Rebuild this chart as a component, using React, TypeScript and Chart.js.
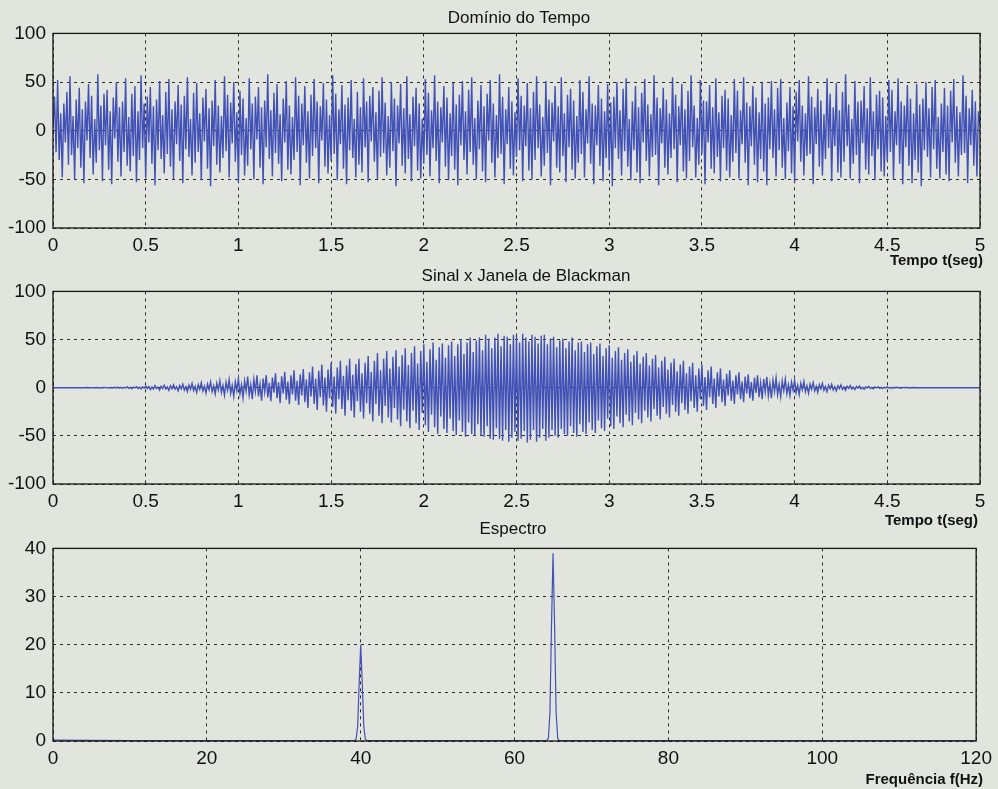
import React, { useEffect, useRef } from "react";
import { Chart, registerables } from "chart.js";

Chart.register(...registerables);

// ---------- DATA ----------
// Time-domain signal samples (0..5 s, evenly spaced)
const signalTime: number[] = [
  4, 35, -22, 52, -30, 18, -48, 28, -12, 40, -35, 56, -25, 15, -50, 32, -18, 44, -38, 22,
  -54, 30, -10, 48, -28, 36, -45, 12, -33, 58, -20, 26, -52, 38, -15, 42, -40, 20, -55, 34,
  -8, 50, -32, 24, -47, 30, -22, 54, -36, 14, -42, 38, -26, 46, -53, 20, -30, 57, -18, 28,
  -49, 35, -12, 45, -34, 25, -56, 32, -20, 51, -29, 16, -44, 40, -24, 53, -37, 22, -50, 30,
  -14, 47, -31, 27, -54, 36, -19, 55, -27, 12, -46, 39, -33, 49, -22, 18, -51, 34, -11, 43,
  -39, 23, -57, 31, -16, 52, -35, 26, -43, 15, -28, 56, -21, 37, -48, 29, -13, 50, -32, 19,
  -53, 41, -25, 33, -46, 13, -36, 54, -19, 28, -50, 35, -9, 45, -38, 24, -55, 31, -17, 58,
  -29, 21, -47, 39, -23, 48, -34, 17, -52, 33, -12, 51, -40, 26, -45, 14, -30, 55, -22, 36,
  -56, 28, -15, 46, -33, 20, -49, 37, -26, 53, -18, 30, -54, 25, -10, 49, -37, 32, -44, 16,
  -31, 57, -24, 38, -51, 22, -14, 47, -39, 27, -55, 34, -20, 52, -28, 12, -48, 40, -35, 24,
  -43, 54, -17, 30, -53, 36, -11, 45, -32, 19, -50, 41, -27, 55, -23, 29, -46, 15, -38, 50,
  -21, 33, -57, 26, -13, 48, -36, 23, -44, 56, -29, 17, -52, 35, -16, 44, -41, 28, -49, 12,
  -34, 53, -25, 39, -47, 21, -18, 57, -31, 30, -54, 24, -12, 46, -37, 34, -51, 18, -26, 49,
  -40, 27, -56, 37, -15, 51, -30, 20, -45, 42, -22, 55, -35, 13, -50, 31, -19, 47, -42, 25,
  -53, 38, -10, 52, -33, 28, -48, 16, -28, 58, -24, 35, -55, 22, -14, 45, -39, 30, -46, 19,
  -27, 54, -20, 36, -52, 26, -16, 49, -41, 23, -50, 40, -30, 56, -18, 27, -47, 14, -36, 51,
  -23, 32, -56, 29, -11, 46, -38, 25, -43, 55, -26, 18, -53, 37, -17, 43, -40, 31, -49, 15,
  -33, 52, -24, 40, -48, 22, -13, 56, -34, 28, -55, 26, -15, 47, -36, 33, -52, 20, -28, 48,
  -41, 29, -57, 35, -18, 50, -29, 21, -46, 43, -21, 54, -37, 12, -51, 30, -20, 46, -43, 24,
  -54, 39, -12, 53, -31, 27, -47, 17, -27, 57, -25, 34, -56, 23, -13, 44, -38, 32, -45, 18,
  -28, 55, -19, 37, -53, 25, -15, 48, -42, 22, -49, 41, -31, 57, -17, 26, -48, 13, -35, 52,
  -24, 31, -55, 30, -12, 47, -39, 24, -44, 54, -27, 19, -52, 36, -18, 42, -41, 33, -48, 16,
  -32, 53, -23, 41, -49, 21, -14, 55, -33, 29, -56, 25, -16, 46, -35, 34, -53, 19, -29, 49,
  -42, 28, -56, 34, -19, 51, -28, 22, -47, 44, -20, 53, -38, 13, -50, 29, -21, 45, -44, 25,
  -53, 40, -11, 52, -32, 26, -46, 18, -26, 56, -24, 35, -55, 24, -14, 43, -37, 31, -46, 17,
  -29, 54, -18, 38, -52, 24, -16, 49, -43, 21, -48, 40, -32, 58, -16, 27, -49, 12, -34, 51,
  -25, 30, -54, 31, -13, 46, -40, 23, -45, 55, -26, 20, -51, 37, -19, 41, -42, 34, -47, 15,
  -31, 52, -22, 42, -50, 20, -15, 54, -34, 30, -55, 26, -17, 47, -36, 33, -54, 18, -30, 48,
  -43, 27, -57, 33, -20, 50, -27, 23, -48, 45, -19, 52, -39, 14, -49, 28, -22, 44, -45, 26,
  -52, 41, -12, 53, -33, 25, -47, 19, -25, 57, -23, 36, -54, 23, -15, 42, -36, 30, -47, 20,
  6,
];

// Signal multiplied by Blackman window (0..5 s, evenly spaced)
const signalWindowed: number[] = [
  0, 0, 0, 0, 0, 0, 0, 0, 0, 0, 0, 0, 0, 0, 0, 0, 0, 0, 0.1, -0.1,
  0.1, -0.1, 0.2, -0.1, 0.1, -0.2, 0.1, -0.1, 0.2, -0.2, 0.1, -0.3, 0.2, -0.1, 0.3, -0.2, 0.1, -0.3, 0.2, -0.3,
  0.4, -0.2, 0.6, -0.5, 0.3, -0.8, 0.5, -0.2, 0.9, -0.6, 0.4, -1, 0.7, -0.3, 1.1, -0.8, 0.5, -1.2, 0.9, -0.5,
  1.5, -0.8, 1.2, -1.9, 0.7, -1.4, 2.2, -1, 0.6, -2.4, 1.6, -0.9, 2.6, -1.5, 0.8, -2.8, 1.9, -1.1, 3, -1.6,
  1, -3.2, 2.2, -1.3, 3.6, -2.5, 1.1, -4, 2.7, -1.5, 4.4, -2.9, 1.4, -4.8, 3.1, -1.7, 5.2, -3.3, 1.6, -5.5,
  3.8, -2, 6, -4.2, 1.8, -6.6, 4.5, -2.4, 7.2, -5, 2.2, -7.8, 5.4, -2.6, 8.4, -5.8, 2.4, -9, 6.2, -3,
  9.5, -6.5, 3, -10.5, 7, -3.5, 11.5, -7.8, 3.2, -12, 8.4, -4, 12.8, -9, 3.6, -13.5, 9.5, -4.4, 13, -10,
  5, -14, 10.5, -5.2, 15, -11, 5.5, -16, 11.8, -6, 16.5, -12.5, 6.4, -17.2, 13, -7, 18, -13.4, 7.2, -18,
  14, -8, 19.5, -15, 8.5, -21, 16, -9, 22, -17, 9.5, -23, 17.5, -10, 24, -18.5, 10.5, -25, 19, -11,
  26, -20, 11.5, -27, 21, -12, 28, -22, 12.5, -29, 23, -13, 30, -24, 13.5, -31, 24.5, -14, 30, -25,
  15, -32, 26, -16, 33, -27, 16.5, -35, 28, -17, 36, -29, 18, -37, 30, -19, 38, -31, 20, -36,
  32, -21, 39, -33, 22, -40, 34, -23, 41, -35, 23.5, -42, 36, -24, 43, -37, 25, -44, 38, -26,
  45, -39, 27, -46, 40, -28, 47, -41, 29, -48, 42, -30, 46, -43, 31, -47, 44, -32, 48, -45,
  33, -49, 45, -34, 50, -46, 35, -51, 47, -36, 52, -48, 37, -50, 49, -38, 52, -50, 39, -51,
  55, -40, 51, -53, 41, -54, 52, -42, 56, -53, 43, -55, 54, -44, 53, -56, 45, -52, 55, -46,
  54, -55, 47, -53, 56, -45, 52, -57, 48, -54, 55, -44, 53, -56, 46, -52, 54, -43, 55, -55,
  45, -52, 51, -44, 53, -50, 42, -52, 49, -43, 51, -48, 41, -50, 48, -40, 52, -47, 39, -51,
  47, -38, 48, -46, 37, -48, 45, -36, 47, -44, 35, -47, 43, -34, 46, -42, 33, -45, 41, -32,
  44, -40, 31, -43, 38, -30, 42, -37, 29, -41, 36, -28, 40, -35, 27, -39, 34, -26, 38, -33,
  25, -37, 32, -24, 36, -31, 23, -35, 30, -22, 34, -29, 21, -33, 28, -20, 32, -27, 19, -31,
  26, -18, 30, -25, 17, -29, 24, -16, 28, -23, 15, -27, 22, -14, 26, -21, 13, -25, 20, -12,
  24, -19, 11, -23, 18, -10, 22, -17, 9.5, -21, 16, -9, 20, -15, 8.5, -19, 14.5, -8, 18, -13.5,
  7.5, -17, 13, -7, 16, -12, 6.5, -15, 11.5, -6, 14, -11, 5.8, -13.5, 10.5, -5.4, 12.8, -9.8, 5, -12,
  9, -4.6, 11.4, -8.4, 4.2, -10.8, 7.8, -3.8, 10, -7.2, 3.5, -9.4, 6.8, -3.2, 8.8, -6.2, 2.9, -8.2, 5.8, -2.6,
  7.6, -5.2, 2.4, -7, 4.6, -2.1, 6.4, -4.2, 1.9, -5.8, 3.8, -1.7, 5.2, -3.4, 1.5, -4.8, 3.1, -1.4, 4.4, -2.8,
  1.3, -4, 2.6, -1.2, 3.6, -2.3, 1, -3.2, 2, -0.9, 2.9, -1.8, 0.8, -2.6, 1.6, -0.7, 2.3, -1.4, 0.6, -2,
  1.3, -0.5, 1.8, -1.1, 0.4, -1.6, 0.9, -0.4, 1.4, -0.8, 0.3, -1.2, 0.7, -0.3, 1, -0.6, 0.3, -0.9, 0.5, -0.2,
  0.8, -0.4, 0.2, -0.7, 0.4, -0.2, 0.6, -0.3, 0.1, -0.5, 0.3, -0.1, 0.4, -0.2, 0.1, -0.3, 0.2, -0.1, 0.2, -0.1,
  0.1, -0.1, 0.1, -0.1, 0.1, 0, 0.1, -0.1, 0, 0.1, -0.1, 0, 0, 0, 0, 0, 0, 0, 0, 0,
  0, 0, 0, 0, 0, 0, 0, 0, 0, 0, 0, 0, 0, 0, 0, 0, 0, 0, 0, 0,
  0,
];

// Spectrum
const spectrumFreq: number[] = [
  0, 10, 20, 30, 39.2, 39.4, 39.6, 39.8, 40, 40.2, 40.4, 40.6, 40.8, 50, 60,
  64.2, 64.4, 64.6, 64.8, 65, 65.2, 65.4, 65.6, 65.8, 80, 100, 120,
];
const spectrumAmp: number[] = [
  0.2, 0.1, 0.1, 0.1, 0.1, 0.4, 3, 12, 20, 12, 3, 0.4, 0.1, 0.1, 0.1,
  0.1, 0.6, 6, 24, 39, 24, 6, 0.6, 0.1, 0.1, 0.1, 0.1,
];

const TIME_END = 5;
const titles = ["Domínio do Tempo", "Sinal x Janela de Blackman", "Espectro"];
const xLabels = ["Tempo t(seg)", "Tempo t(seg)", "Frequência f(Hz)"];

// ---------- STYLE ----------
const BG = "#e2e4de";
const LINE = "#4151b6";
const FONT = "'Liberation Sans', Arial, sans-serif";

const boxPlugin = {
  id: "boxPlugin",
  afterDraw(chart: any) {
    const { ctx, chartArea } = chart;
    const { left, top, right, bottom } = chartArea;
    ctx.save();
    ctx.strokeStyle = "#151515";
    ctx.lineWidth = 1.3;
    ctx.strokeRect(left, top, right - left, bottom - top);
    ctx.restore();
  },
};

function timePoints(values: number[]) {
  const n = values.length;
  return values.map((v, i) => ({ x: (i * TIME_END) / (n - 1), y: v }));
}

function buildConfig(
  points: { x: number; y: number }[],
  xMax: number,
  xStep: number,
  yMin: number,
  yMax: number,
  yStep: number,
  padRight: number,
  lineWidth: number
): any {
  return {
    type: "line",
    data: {
      datasets: [
        {
          data: points,
          borderColor: LINE,
          borderWidth: lineWidth,
          pointRadius: 0,
          tension: 0,
          fill: false,
        },
      ],
    },
    options: {
      animation: false,
      responsive: false,
      maintainAspectRatio: false,
      layout: { padding: { left: 0, right: padRight, top: 14, bottom: 0 } },
      plugins: {
        legend: { display: false },
        title: { display: false },
        tooltip: { enabled: false },
      },
      scales: {
        x: {
          type: "linear",
          min: 0,
          max: xMax,
          ticks: {
            stepSize: xStep,
            autoSkip: false,
            maxRotation: 0,
            padding: 6,
            color: "#111",
            font: { family: FONT, size: 19 },
            callback: (v: number) => String(Math.round(v * 10) / 10),
          },
          grid: { color: "#2a2a2a", lineWidth: 1, drawTicks: false },
          border: { display: false, dash: [3, 4] },
          afterFit: (s: any) => {
            s.height = 30;
          },
        },
        y: {
          type: "linear",
          min: yMin,
          max: yMax,
          ticks: {
            stepSize: yStep,
            padding: 7,
            color: "#111",
            font: { family: FONT, size: 19 },
            callback: (v: number) => String(v),
          },
          grid: { color: "#2a2a2a", lineWidth: 1, drawTicks: false },
          border: { display: false, dash: [3, 4] },
          afterFit: (s: any) => {
            s.width = 53;
          },
        },
      },
    },
    plugins: [boxPlugin],
  };
}

function ChartCanvas(props: { top: number; height: number; config: () => any }) {
  const ref = useRef<HTMLCanvasElement | null>(null);
  useEffect(() => {
    if (!ref.current) return;
    const chart = new Chart(ref.current, props.config());
    return () => chart.destroy();
  }, []);
  return (
    <canvas
      ref={ref}
      width={998}
      height={props.height}
      style={{ position: "absolute", left: 0, top: props.top, width: 998, height: props.height }}
    />
  );
}

const textBase: React.CSSProperties = {
  position: "absolute",
  fontFamily: FONT,
  color: "#111",
  whiteSpace: "nowrap",
  lineHeight: 1,
};

export default function App() {
  return (
    <div
      style={{
        position: "absolute",
        left: 0,
        top: 0,
        width: 998,
        height: 789,
        background: BG,
        overflow: "hidden",
      }}
    >
      <ChartCanvas
        top={15}
        height={243}
        config={() => buildConfig(timePoints(signalTime), 5, 0.5, -100, 100, 50, 18, 1.4)}
      />
      <ChartCanvas
        top={273}
        height={241}
        config={() => buildConfig(timePoints(signalWindowed), 5, 0.5, -100, 100, 50, 18, 1.4)}
      />
      <ChartCanvas
        top={530}
        height={241}
        config={() =>
          buildConfig(
            spectrumFreq.map((f, i) => ({ x: f, y: spectrumAmp[i] })),
            120,
            20,
            0,
            40,
            10,
            20,
            1.2
          )
        }
      />

      <div style={{ ...textBase, fontSize: 17, top: 9, left: 519, transform: "translateX(-50%)" }}>{titles[0]}</div>
      <div style={{ ...textBase, fontSize: 17, top: 267, left: 526, transform: "translateX(-50%)" }}>{titles[1]}</div>
      <div style={{ ...textBase, fontSize: 17, top: 520, left: 513, transform: "translateX(-50%)" }}>{titles[2]}</div>

      <div style={{ ...textBase, fontSize: 15, fontWeight: "bold", top: 252, right: 15 }}>{xLabels[0]}</div>
      <div style={{ ...textBase, fontSize: 15, fontWeight: "bold", top: 512, right: 20 }}>{xLabels[1]}</div>
      <div style={{ ...textBase, fontSize: 15, fontWeight: "bold", top: 771, right: 15 }}>{xLabels[2]}</div>
    </div>
  );
}
